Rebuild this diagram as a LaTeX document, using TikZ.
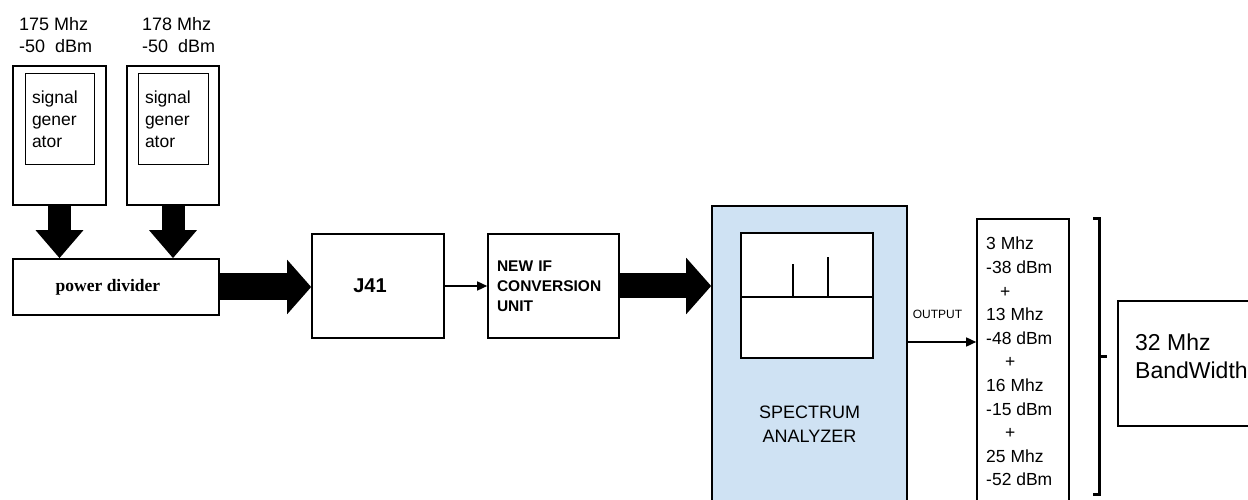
\documentclass[tikz,border=0pt]{standalone}
\usepackage{fontspec}
\setmainfont{Liberation Sans}
\newfontfamily\serifbf{Liberation Serif}
\usetikzlibrary{arrows.meta}
\definecolor{saBlue}{HTML}{CFE2F3}
\newcommand{\fs}[2]{\fontsize{#1}{#2}\selectfont}

\begin{document}
\begin{tikzpicture}[x=1pt,y=1pt,
  box/.style={draw,line width=1.6pt,inner sep=0pt},
  fat/.style n args={3}{line width=#1,-{Triangle[length=#2,width=#3]}},
  thin/.style={line width=1.5pt,-{Triangle[length=10pt,width=9pt]}}]
\useasboundingbox (0,0) rectangle (1248,500);
\clip (0,0) rectangle (1248,500);
% signal generators
\node[box,minimum width=93,minimum height=139] (gen1) at (59.5,364.5) {};
\node[box,line width=1pt,minimum width=69,minimum height=91,text width=55,inner sep=7pt,align=left,font=\fs{17.5}{22}] (sg1) at (59.5,380.5) {signal\\gener\\ator};
\node[anchor=north west,inner sep=0,align=left,font=\fs{18}{22}] (f1) at (19,483) {175 Mhz\\-50~~dBm};
\node[box,minimum width=92,minimum height=139] (gen2) at (173,364.5) {};
\node[box,line width=1pt,minimum width=70,minimum height=91,text width=56,inner sep=7pt,align=left,font=\fs{17.5}{22}] (sg2) at (173,380.5) {signal\\gener\\ator};
\node[anchor=north west,inner sep=0,align=left,font=\fs{18}{22}] (f2) at (142,483) {178 Mhz\\-50~~dBm};
% chain
\node[box,minimum width=206,minimum height=56,font=\serifbf\bfseries\fs{17.5}{20}] (pd) at (116,213) {\hspace*{-16pt}power divider};
\node[box,minimum width=132,minimum height=104,font=\bfseries\fs{20}{20}] (j41) at (378,214) {\hspace*{-16pt}J41};
\node[box,minimum width=131,minimum height=104,text width=113,inner sep=9pt,align=left,font=\bfseries\fs{15.5}{20}] (ifc) at (553.5,214) {NEW IF\\CONVERSION\\UNIT};
\draw[fat={23pt}{28pt}{46pt}] (gen1.south) -- (gen1.south |- pd.north);
\draw[fat={23pt}{28pt}{46pt}] (gen2.south) -- (gen2.south |- pd.north);
\draw[fat={27pt}{24pt}{53pt}] (pd.east) -- (pd.east -| j41.west);
\draw[thin] (j41.east) -- (ifc.west);
% spectrum analyzer
\node[box,fill=saBlue,minimum width=195,minimum height=314] (sa) at (809.5,137) {};
\node[box,fill=white,minimum width=132,minimum height=125] (scr) at (807,204.5) {};
\coordinate (base) at (0,203);
\draw[line width=1.6pt] (scr.west |- base) -- (scr.east |- base);
\draw[line width=1.6pt] (793,203) -- (793,236);
\draw[line width=1.6pt] (828,203) -- (828,243);
\node[inner sep=0,align=center,font=\fs{18}{24}] (salbl) at (809.5,75.5) {SPECTRUM\\ANALYZER};
\draw[fat={25pt}{25pt}{55pt}] (ifc.east) -- (ifc.east -| sa.west);
% output tones
\node[font=\fs{12}{14}] (outlbl) at (937.5,186) {OUTPUT};
\node[box,minimum width=92,minimum height=301] (lst) at (1023,130.5) {};
\coordinate (outy) at (0,158);
\draw[thin] (sa.east |- outy) -- (lst.west |- outy);
\node[anchor=north west,inner sep=0,align=left,font=\fs{17.5}{23.6}] (lsttxt) at (986,263)
  {3 Mhz\\-38 dBm\\\hspace*{14pt}+\\13 Mhz\\-48 dBm\\\hspace*{19pt}+\\16 Mhz\\-15 dBm\\\hspace*{19pt}+\\25 Mhz\\-52 dBm};
% bracket
\draw[line width=3pt] (1093,281) -- (1099,281) -- (1099,5) -- (1093,5);
\draw[line width=3pt] (1099,143) -- (1107,143);
% bandwidth
\node[box,minimum width=182,minimum height=125] (bw) at (1209,136.5) {};
\node[anchor=north west,inner sep=0,align=left,font=\fs{23}{28}] (bwtxt) at (1135,166) {32 Mhz\\BandWidth};
\end{tikzpicture}
\end{document}
